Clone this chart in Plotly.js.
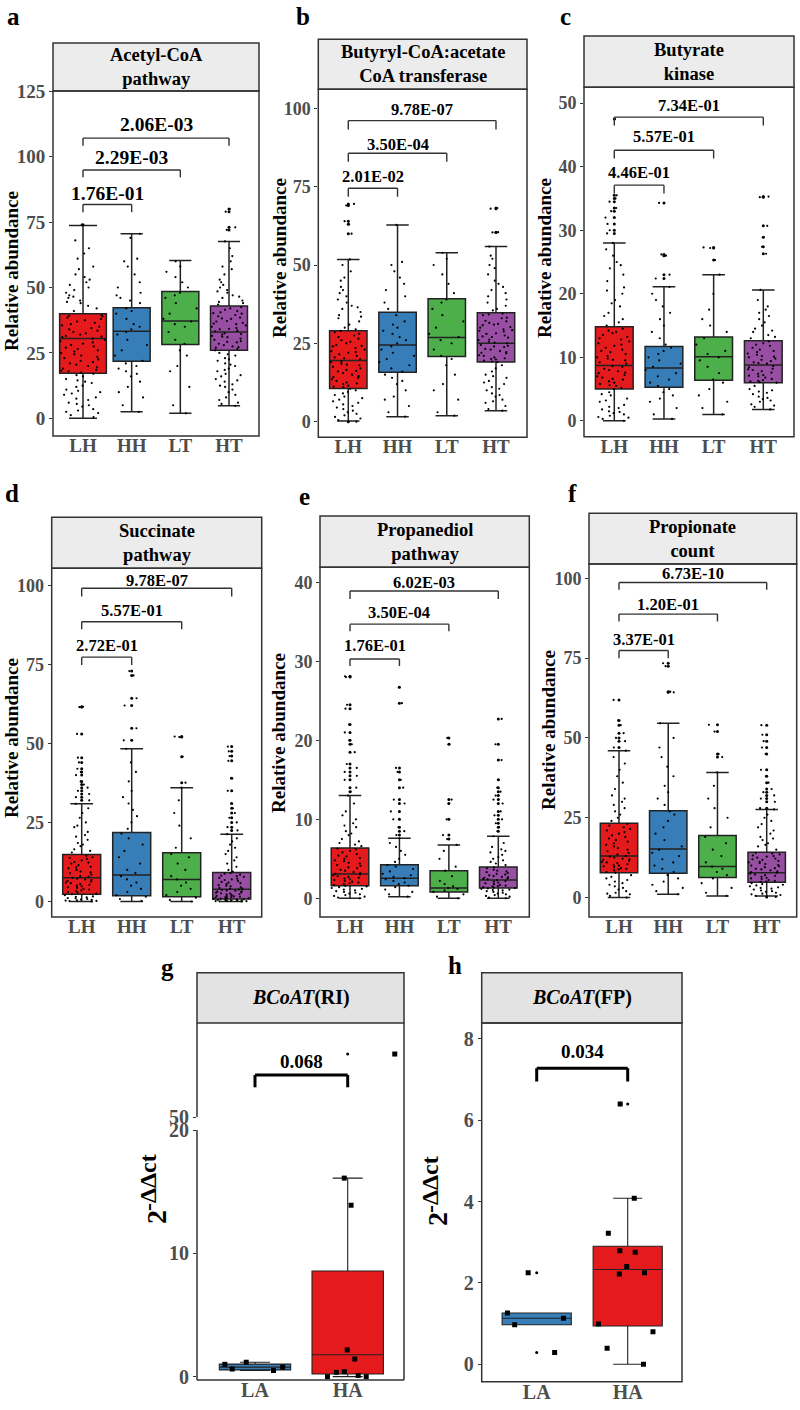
<!DOCTYPE html>
<html><head><meta charset="utf-8">
<script src="https://cdn.plot.ly/plotly-3.0.1.min.js"></script>
<style>html,body{margin:0;padding:0;background:#fff}#chart{width:800px;height:1410px}</style>
</head><body><div id="chart"></div>
<script>
// ---------------- DATA ----------------
const groups = ['LH','HH','LT','HT'];
const qpcrGroups = ['LA','HA'];
const comparisons = [[0,1],[0,2],[0,3]];

// a: Acetyl-CoA pathway
const aStrip = 'Acetyl-CoA<br>pathway';
const aTicks = [0,25,50,75,100,125];
const aQ1 = [17.2,21.8,28.2,26.0], aMed = [30.5,33.3,37.2,33.0], aQ3 = [40.0,42.3,48.5,42.9], aLo = [0,2.5,1.9,4.8], aHi = [73.7,70.5,60.3,67.6];
const aPvals = ['1.76E-01','2.29E-03','2.06E-03'];
const aPtsLH = [0.5,1.2,2,3,4.5,5.5,6,7,8,9,10,11,12,13.5,14,15,16.5,17.5,18,19,20,21,22,23,24,25,26,27,27.5,28,29,30,18.5,22.5,26.5,31,32,33,34,35,36,37,38,39,39.5,31.5,33.5,35.5,37.5,41,42,43,44,45,46,47,48,50,51,52,53,55,57,58,61,63,65,68,74,
  17,18.2,19.5,20.5,21.5,23.5,24.5,25.5,28.5,29.5,30.5,31.2,32.5,34.5,36.5,38.5,39.2,16,14.5,12.5,10.5,9.5,7.5,5,3.5,2.5,44.5,46.5,49,54];
const aPtsHH = [2.5,5,8,10,12,14,16,17,18,19,20,21,22,24,26,28,30,32,33,34,35,36,38,40,41,42,44,45,46,47,48,50,52,55,58,60,61,69,70.5];
const aPtsLT = [1.9,5,12,18,20,24,26,28.5,30,33,35,36,37,38,40,42,44,46,47,48,50,52,54,56,58,60];
const aPtsHT = [4.8,6,8,10,11,12,13,14,15,16,17,18,19,20,21,22,23,24,25,26.5,27,28,29,30,31,32,32.5,27.5,29.5,31.5,33.5,34,35,36,37,38,39,40,41,42,34.5,36.5,38.5,40.5,43.5,44,45,46,47,48,49,50,51,52,53,55,57,58,60,62,65,67.6,72,73,79,80,
  26,27.2,28.5,29.2,30.5,31.2,32.2,33.2,34.2,35.5,36.2,37.2,38.2,39.5,40.2,41.5,42.5,44.5,46.5,48.5,20.5,22.5,24.5,18.5,16.5,14.5,12.5,9,7,5.5];

// b: Butyryl-CoA:acetate CoA transferase
const bStrip = 'Butyryl-CoA:acetate<br>CoA transferase';
const bTicks = [0,25,50,75,100];
const bQ1 = [10.6,15.8,20.8,19.0], bMed = [19.5,24.5,26.9,25.0], bQ3 = [29.0,34.9,39.2,34.8], bLo = [0.2,1.6,1.9,3.5], bHi = [51.8,62.8,53.9,55.9];
const bPvals = ['2.01E-02','3.50E-04','9.78E-07'];
const bPtsLH = [0,0.5,1,1.5,2,3,4,5,6,7,8,9,10,11,11.5,12,13,14,15,16,17,18,19,12.5,14.5,16.5,18.5,20,21,22,23,24,25,26,27,28,29,20.5,22.5,24.5,26.5,30,31,32,33,34,35,36,37,38,40,41,42,43,45,46,48,50,51.8,60,63,64,69,69.5,
  10.5,11.2,12.2,13.5,14.2,15.5,16.2,17.5,18.2,19.2,20.2,21.5,22.2,23.5,24.2,25.5,27.5,28.5,29.5,5.5,6.5,7.5,8.5,9.5,2.5,3.5,4.5,33.5,36.5,39];
const bPtsHH = [1.6,3,5,7,8,10,12,13,14,15,16,17,18,19,20,21,22,23,24,25,26,27,28,29,30,31,32,34,36,38,40,42,44,46,48,50,51,62.8];
const bPtsLT = [1.9,3,7,10,12,15,18,20,21,23,25,26,27,28,30,32,34,36,38,39,41,44,47,50,52,53.9];
const bPtsHT = [3.5,4,5,6,7,8,9,10,11,12,13,14,15,16,17,18,19,19.5,20,21,22,23,24,25,20.5,22.5,24.5,25.5,26,27,28,29,30,31,32,33,34,34.5,27.5,29.5,31.5,35.5,36,37,38,40,42,44,45,47,49,50,52,53,55.9,60.4,60.5,68,68.2,
  19.2,20.2,21.2,22.2,23.2,24.2,25.2,26.2,27.2,28.2,29.2,30.2,31.2,32.2,33.2,34.2,19.8,21.8,23.8,26.8,28.8,30.8,14.5,12.5,10.5,8.5,6.5,39,41,43];

// c: Butyrate kinase
const cStrip = 'Butyrate<br>kinase';
const cTicks = [0,10,20,30,40,50];
const cQ1 = [5.0,5.3,6.4,6.0], cMed = [8.7,8.3,10.1,8.8], cQ3 = [14.8,11.7,13.2,12.6], cLo = [0,0.3,1.0,1.8], cHi = [28.0,21.1,23.0,20.6];
const cPvals = ['4.46E-01','5.57E-01','7.34E-01'];
const cPtsLH = [0,0.3,0.5,0.8,1,1.2,1.5,2,2.5,3,3.5,4,4.5,5,5.5,6,6.5,7,7.5,8,8.5,5.8,6.8,7.8,9,9.5,10,10.5,11,12,13,14,14.5,9.8,11.5,12.5,13.5,15.5,16,17,18,19,20,21,22,23,24,25,26,27,28,29.5,30,31,32,33,33.5,34.5,35,35.5,47.5,
  5.2,5.6,6.2,6.6,7.2,7.6,8.2,8.6,9.2,9.6,10.2,10.8,11.2,11.8,12.2,12.8,13.2,13.8,14.2,4.2,3.2,2.2,1.8,0.6,1.4,16.5,18.5,20.5,24.5,15];
const cPtsHH = [0.3,1,2,3,3.5,4,4.5,5,5.5,6,6.5,7,7.5,8,8.5,9,9.5,10,10.5,11,11.5,12,13,14,15,16,17,18,19,20,21.1,22.4,23,26,26.2,34.3];
const cPtsLT = [1,2,3,4,5,6,6.5,7.5,8.5,9.5,10,10.5,11,12,13,14,15,16,17.5,20,23,25.3,27.2,27.3];
const cPtsHT = [1.8,2.2,2.6,3,3.4,3.8,4.2,4.6,5,5.5,6,6.3,6.6,7,7.4,7.8,8.2,8.6,9,9.4,9.8,10.2,10.6,11,11.5,12,12.5,13,13.5,14,14.5,15,16,17,18,19,20.6,26.3,27.4,28.9,30.7,35.2,35.3,
  6.1,6.4,6.8,7.2,7.6,8,8.4,9.2,9.6,10,10.4,10.8,11.2,11.8,12.2,6.2,7.1,8.1,9.1,10.1,4.4,4.8,3.6,3.2,2.4,13.2,14.2,15.5,16.5,17.5];

// d: Succinate pathway
const dStrip = 'Succinate<br>pathway';
const dTicks = [0,25,50,75,100];
const dQ1 = [2.3,1.8,1.5,0.8], dMed = [7.5,8.4,7.0,3.9], dQ3 = [14.9,21.8,15.4,9.2], dLo = [0,0,0,0], dHi = [30.9,48.3,36.0,21.3];
const dPvals = ['2.72E-01','5.57E-01','9.78E-07'];
const dPtsLH = [0,0.2,0.5,0.8,1,1.3,1.6,2,2.3,2.8,3.3,3.8,4.3,4.8,5.3,5.8,6.3,6.8,7.2,7.8,8.5,9.2,10,10.8,11.5,12.3,13,13.8,14.5,15.5,16.5,17.5,18.5,19.5,20.5,22,23.5,25,26.5,28,29.5,30.9,32,33,34,35,36,37,38,40,41,42,44,45.5,53,61.6,61.5,
  2.5,3,3.5,4,4.5,5,5.5,6,6.5,7,7.5,8,9,9.5,10.5,11,12,12.5,13.5,14,1.5,1.1,0.4,0.1,0.3,0.6,16,18,21,24];
const dPtsHH = [0.2,0.8,1.5,2,3,4,5,6,7,8,9,10,12,14,16,18,20,21.5,23,25,27,29,31,33,35,38,41,44,48.3,51,54.8,62,64.3,71.5,72.9];
const dPtsLT = [0,0.5,1.2,2,3,4,5,6,7,8,10,12,14,15,17,20,24,28,32,36,37.6,45.8,52.2,52];
const dPtsHT = [0,0.1,0.2,0.3,0.5,0.7,0.9,1.1,1.3,1.5,1.7,2,2.3,2.6,2.9,3.2,3.5,3.8,4.1,4.5,5,5.5,6,6.5,7,7.5,8,8.5,9,9.5,10,11,12,13,14,15,16,17,18,19,20,21.3,22.5,23.5,25,26.5,28,29.5,31,35,39,44.5,46,47.5,49,
  0.15,0.25,0.4,0.6,0.8,1,1.2,1.4,1.6,1.8,2.2,2.5,2.8,3.1,3.4,3.7,4,4.3,4.8,5.2,5.8,6.2,6.8,7.2,7.8,8.2,8.8,0.05,0.35,0.55];

// e: Propanediol pathway
const eStrip = 'Propanediol<br>pathway';
const eTicks = [0,10,20,30,40];
const eQ1 = [1.6,1.6,0.8,1.3], eMed = [3.06,2.55,1.3,2.3], eQ3 = [6.35,4.24,3.5,3.95], eLo = [0,0.2,0,0], eHi = [13.0,7.6,6.75,7.85];
const ePvals = ['1.76E-01','3.50E-04','6.02E-03'];
const ePtsLH = [0,0.2,0.4,0.6,0.8,1,1.2,1.4,1.6,1.8,2,2.2,2.4,2.6,2.8,3,3.2,3.5,3.8,4.1,4.4,4.7,5,5.3,5.6,6,6.3,6.6,7,7.5,8,8.5,9,9.5,10,10.5,11,12,13,13.5,14,15,15.5,16,16.5,17,18.5,19.5,20,21,22,24,24.5,28,28.1,
  1.5,1.7,1.9,2.1,2.3,2.5,2.7,2.9,3.1,3.3,3.6,3.9,4.2,4.5,4.8,5.1,5.4,5.8,6.2,0.1,0.3,0.5,0.7,0.9,1.1,1.3,6.8,7.2,8.2,9.2];
const ePtsHH = [0.2,0.5,0.8,1.1,1.4,1.6,1.8,2,2.2,2.4,2.55,2.7,2.9,3.1,3.4,3.7,4,4.2,4.6,5,5.5,6,6.5,7,7.6,8,8.5,9,10,11,12,12.5,14,15,16,16.5,24.7,26.7];
const ePtsLT = [0,0.2,0.5,0.8,1,1.2,1.3,1.5,1.8,2.2,2.8,3.5,4,5,6,6.75,7.5,8,10,12,12.5,19.5,20.3];
const ePtsHT = [0,0.2,0.4,0.6,0.8,1,1.1,1.3,1.5,1.7,1.9,2.1,2.3,2.5,2.7,2.9,3.1,3.3,3.6,3.9,4.2,4.6,5,5.5,6,6.5,7,7.85,8.5,9,9.5,10,10.5,11,12,12.5,13,13.5,14,15,17.5,19.5,22.7,
  1.2,1.4,1.6,1.8,2,2.2,2.4,2.6,2.8,3,3.2,3.5,3.8,0.1,0.3,0.5,0.7,0.9,1.05,1.25,4.4,4.8,5.2,5.8,6.2,1.35,1.55,2.45,2.65,3.4];

// f: Propionate count
const fStrip = 'Propionate<br>count';
const fTicks = [0,25,50,75,100];
const fQ1 = [7.8,7.6,6.3,4.8], fMed = [13.0,15.2,9.7,7.8], fQ3 = [23.3,27.2,19.4,14.2], fLo = [0,1,0.5,0.5], fHi = [46.0,54.6,39.2,27.6];
const fPvals = ['3.37E-01','1.20E-01','6.73E-10'];
const fPtsLH = [0,0.5,1,1.5,2,3,4,5,6,7,7.8,8.5,9,9.5,10,10.5,11,11.5,12,12.5,13,14,15,16,17,18,19,20,21,22,23,24,26,28,30,32,34,36,38,40,42,44,46,47,49,50,51.5,54,55.5,61.9,
  8,8.8,9.2,9.8,10.2,10.8,11.2,11.8,12.2,12.8,13.5,14.5,15.5,16.5,17.5,18.5,19.5,20.5,21.5,22.5,1.2,2.5,3.5,4.5,5.5,6.5,25,27,29,31];
const fPtsHH = [1,2,3,4,5,6,7,8,9,10,11,12,13,14,15,16,18,20,22,24,26,27,29,31,33,35,38,41,44,47,50,54.6,64.3,64.5,72.5,73.4];
const fPtsLT = [0.5,1.5,3,4.5,6,7,8,9,9.7,11,13,15,17,19,22,25,28,31,35,39.2,44,45,52,54.1];
const fPtsHT = [0.5,1,1.5,2,2.5,3,3.5,4,4.5,5,5.5,6,6.5,7,7.5,8,8.5,9,9.5,10,10.5,11,11.5,12,12.5,13,13.5,14,15,16,17,18,19,20,21,22,23,24,25,26,27.6,28,30,31,32,33,34,36,38,40,45,47,49,51,54,
  4.9,5.2,5.8,6.2,6.8,7.2,7.8,8.2,8.8,9.2,9.8,10.2,10.8,11.2,11.8,12.2,12.8,13.2,13.8,0.2,0.8,1.2,1.8,2.2,2.8,3.2,3.8,4.2,16.5,18.5];

// g: BCoAT (RI) qPCR
const gStrip = '<i>BCoAT</i>(RI)';
const gTicks = [0,10,20], gTicksUpper = [50];
const gBreak = [20, 50];
const gQ1 = [0.55,0.22], gMed = [0.77,1.78], gQ3 = [1.02,8.57], gLo = [0.5,0], gHi = [1.17,16.1];
const gPval = '0.068';
const gPtsLA = [0.5,0.62,0.77,1.0,1.17];
const gPtsHA = [16.1,13.9,2.17,1.43,0.4,0.35,0.1,0,0,56.7];

// h: BCoAT (FP) qPCR
const hStrip = '<i>BCoAT</i>(FP)';
const hTicks = [0,2,4,6,8];
const hQ1 = [0.97,0.94], hMed = [1.13,2.33], hQ3 = [1.26,2.9], hLo = [0.97,0], hHi = [1.26,4.08];
const hPval = '0.034';
const hPtsLA = [2.25,1.13,0.29,0.97,1.26];
const hPtsHA = [4.08,3.22,2.79,2.75,2.4,2.25,2.22,0.99,0.8,0.39,0.0,6.4];

// ---------------- STYLE / GEOMETRY ----------------
const W = 800, H = 1410;
const SERIF = 'Liberation Serif, Times New Roman, serif';
const set1 = ['#E41A1C','#377EB8','#4DAF4A','#984EA3'];
const qpcrColors = ['#377EB8','#E41A1C'];

const panels = [
  {id:'a', cats:groups, colors:set1, q1:aQ1, med:aMed, q3:aQ3, lo:aLo, hi:aHi, pts:[aPtsLH,aPtsHH,aPtsLT,aPtsHT], pv:aPvals, strip:aStrip, ticks:aTicks},
  {id:'b', cats:groups, colors:set1, q1:bQ1, med:bMed, q3:bQ3, lo:bLo, hi:bHi, pts:[bPtsLH,bPtsHH,bPtsLT,bPtsHT], pv:bPvals, strip:bStrip, ticks:bTicks},
  {id:'c', cats:groups, colors:set1, q1:cQ1, med:cMed, q3:cQ3, lo:cLo, hi:cHi, pts:[cPtsLH,cPtsHH,cPtsLT,cPtsHT], pv:cPvals, strip:cStrip, ticks:cTicks},
  {id:'d', cats:groups, colors:set1, q1:dQ1, med:dMed, q3:dQ3, lo:dLo, hi:dHi, pts:[dPtsLH,dPtsHH,dPtsLT,dPtsHT], pv:dPvals, strip:dStrip, ticks:dTicks},
  {id:'e', cats:groups, colors:set1, q1:eQ1, med:eMed, q3:eQ3, lo:eLo, hi:eHi, pts:[ePtsLH,ePtsHH,ePtsLT,ePtsHT], pv:ePvals, strip:eStrip, ticks:eTicks},
  {id:'f', cats:groups, colors:set1, q1:fQ1, med:fMed, q3:fQ3, lo:fLo, hi:fHi, pts:[fPtsLH,fPtsHH,fPtsLT,fPtsHT], pv:fPvals, strip:fStrip, ticks:fTicks},
  {id:'g', cats:qpcrGroups, colors:qpcrColors, q1:gQ1, med:gMed, q3:gQ3, lo:gLo, hi:gHi, pts:[gPtsLA,gPtsHA], pv:[gPval], strip:gStrip, ticks:gTicks},
  {id:'h', cats:qpcrGroups, colors:qpcrColors, q1:hQ1, med:hMed, q3:hQ3, lo:hLo, hi:hHi, pts:[hPtsLA,hPtsHA], pv:[hPval], strip:hStrip, ticks:hTicks}
];

// pixel geometry: frame [left, top, right, bottom]
const geom = {
  a:{frame:[53,91,259,436], strip:43, cat:[83,229], yr:[-6.75,125.1], w:[0.96,0.76,0.76,0.76], top:[81.7,94.9,107.1], leg:[78.8,92.1,104.2], txt:[85.8,99.5,112.2], pvSize:19.5, letter:[13.5,17], yt:[11,271]},
  b:{frame:[318.3,89.3,527,437.3], strip:39.3, cat:[348.3,496], yr:[-5.0,106.1], w:[0.76,0.76,0.76,0.76], top:[74.5,85.7,96.1], leg:[71.8,83.0,93.3], txt:[78.2,88.6,99.5], pvSize:16.5, letter:[303,17], yt:[280,258]},
  c:{frame:[584,87.3,794,436.7], strip:36, cat:[614.3,763.3], yr:[-2.5,52.5], w:[0.76,0.76,0.76,0.76], top:[37.1,42.6,47.8], leg:[35.8,41.3,46.5], txt:[39.1,44.7,49.7], pvSize:16.5, letter:[565,17], yt:[545,258]},
  d:{frame:[51.7,568.3,261.7,917], strip:517.3, cat:[81.7,231.7], yr:[-4.9,105.4], w:[0.76,0.76,0.76,0.76], top:[77.3,88.5,99.1], leg:[74.8,86.1,96.5], txt:[80.9,92.2,101.7], pvSize:16.5, letter:[12,494], yt:[11,738]},
  e:{frame:[320,567.3,529.3,917], strip:516, cat:[350,498.3], yr:[-2.37,41.9], w:[0.76,0.76,0.76,0.76], top:[30.3,34.7,38.9], leg:[29.4,33.8,37.9], txt:[32.0,36.2,40.0], pvSize:16.5, letter:[304,496], yt:[278,733]},
  f:{frame:[589,564,796.7,917], strip:513.3, cat:[619,766.7], yr:[-6.1,104.5], w:[0.76,0.76,0.76,0.76], top:[77.4,88.8,98.7], leg:[75.0,86.5,96.4], txt:[81.0,91.7,101.6], pvSize:16.5, letter:[572,494], yt:[548,730]},
  g:{frame:[197,1023,404,1380], strip:972.7, cat:[255,347.7], yr:[-0.27,20], lowerTop:1130, upperBottom:1117, yrU:[50,60], w:[0.77,0.77], top:[54.47], leg:[53.16], txt:[55.9], pvSize:19, letter:[167,967], yt2:[156,1217], ytSup:[148,1183]},
  h:{frame:[481.7,1023,682,1381.7], strip:972.7, cat:[536.7,627.7], yr:[-0.43,8.39], w:[0.76,0.76], top:[7.28], leg:[6.95], txt:[7.68], pvSize:19, letter:[455,965], yt2:[437,1219], ytSup:[430,1185]}
};

const fx = x => x / W;
const fy = y => 1 - y / H;

const traces = [], shapes = [], annotations = [];
const layout = {
  width: W, height: H, margin:{l:0,r:0,t:0,b:0},
  paper_bgcolor:'#fff', plot_bgcolor:'rgba(0,0,0,0)',
  showlegend:false, boxmode:'overlay',
  font:{family:SERIF, color:'#000'}
};

const tickFont = (s) => ({family:SERIF, size:s, color:'#4d4d4d', weight:'bold'});
const frameLine = {color:'#333', width:1.5};

function axisNames(n){ return n===1 ? ['x','y','xaxis','yaxis'] : ['x'+n,'y'+n,'xaxis'+n,'yaxis'+n]; }

panels.forEach((p, i) => {
  const g = geom[p.id];
  const n = i + 1;
  const [xa, ya, xk, yk] = axisNames(n);
  const [L, T, R, B] = g.frame;
  const nc = p.cats.length;
  const s = (g.cat[1] - g.cat[0]) / (nc - 1);
  const xr = [-(g.cat[0] - L) / s, (nc - 1) + (R - g.cat[1]) / s];
  const isQ = (p.id === 'g' || p.id === 'h');
  const tsz = isQ ? 20 : 18;
  const lowerTop = p.id === 'g' ? g.lowerTop : T;

  layout[xk] = {domain:[fx(L), fx(R)], anchor:ya, type:'category', categoryorder:'array', categoryarray:p.cats,
    range:xr, showgrid:false, zeroline:false, showline:false, ticks:'', ticklabelstandoff:-4,
    tickfont:tickFont(isQ ? 20 : 19), fixedrange:true};
  layout[yk] = {domain:[fy(B), fy(lowerTop)], anchor:xa, range:g.yr, tickvals:p.ticks, ticktext:p.ticks.map(String),
    showgrid:false, zeroline:false, showline:false, ticks:'outside', ticklen:3, tickcolor:'#333',
    tickfont:tickFont(p.id === 'a' ? 19 : tsz), fixedrange:true};

  let upperAxis = null;
  if (p.id === 'g') {
    layout['yaxis9'] = {domain:[fy(g.upperBottom), fy(T)], anchor:xa, range:g.yrU, tickvals:gTicksUpper, ticktext:gTicksUpper.map(String),
      showgrid:false, zeroline:false, showline:false, ticks:'outside', ticklen:3, tickcolor:'#333', tickfont:tickFont(tsz), fixedrange:true};
    upperAxis = 'y9';
  }

  const lineW = isQ ? 1.1 : 1.5;
  const mk = isQ ? {color:'#000', size:5, symbol:'square'} : {color:'#000', size:2.2};
  p.cats.forEach((c, k) => {
    traces.push({type:'box', xaxis:xa, yaxis:ya, x:[c], q1:[p.q1[k]], median:[p.med[k]], q3:[p.q3[k]],
      lowerfence:[p.lo[k]], upperfence:[p.hi[k]], fillcolor:p.colors[k], line:{color:'#222', width:lineW},
      whiskerwidth: isQ ? 0.42 : 0.6, width:g.w[k], boxpoints:false, hoverinfo:'skip'});
  });
  p.cats.forEach((c, k) => {
    let pts = p.pts[k];
    let upperPts = [];
    if (p.id === 'g') { upperPts = pts.filter(v => v > gBreak[0]); pts = pts.filter(v => v <= gBreak[0]); }
    traces.push({type:'box', xaxis:xa, yaxis:ya, x:pts.map(() => c), y:pts, boxpoints:'all', jitter:1, pointpos:0,
      fillcolor:'rgba(0,0,0,0)', line:{color:'rgba(0,0,0,0)', width:0}, marker:mk, width:g.w[k], hoverinfo:'skip'});
    const outs = pts.filter(v => v > p.hi[k] || v < p.lo[k]);
    if (outs.length) traces.push({type:'scatter', mode:'markers', xaxis:xa, yaxis:ya, x:outs.map(() => c), y:outs,
      marker:{color:'#000', size:3}, hoverinfo:'skip', cliponaxis:false});
    if (upperPts.length) {
      traces.push({type:'box', xaxis:xa, yaxis:upperAxis, x:upperPts.map(() => c), y:upperPts, boxpoints:'all', jitter:1, pointpos:0.8,
        fillcolor:'rgba(0,0,0,0)', line:{color:'rgba(0,0,0,0)', width:0}, marker:mk, width:g.w[k], hoverinfo:'skip'});
      traces.push({type:'scatter', mode:'markers', xaxis:xa, yaxis:upperAxis, x:upperPts.map(() => c), y:upperPts,
        marker:{color:'#000', size:3}, hoverinfo:'skip'});
    }
  });

  // frame
  if (p.id === 'g') {
    const ln = (x0,y0,x1,y1) => shapes.push({type:'line', xref:'paper', yref:'paper', x0:fx(x0), y0:fy(y0), x1:fx(x1), y1:fy(y1), line:frameLine});
    ln(R, T, R, B); ln(L, B, R, B); ln(L, T, L, g.upperBottom); ln(L, g.lowerTop, L, B);
  } else {
    shapes.push({type:'rect', xref:'paper', yref:'paper', x0:fx(L), x1:fx(R), y0:fy(B), y1:fy(T), line:frameLine, fillcolor:'rgba(0,0,0,0)'});
  }
  // strip
  shapes.push({type:'rect', xref:'paper', yref:'paper', x0:fx(L), x1:fx(R), y0:fy(T), y1:fy(g.strip),
    line:frameLine, fillcolor: isQ ? '#e3e3e3' : '#ececec', layer:'below'});
  annotations.push({xref:'paper', yref:'paper', x:fx((L+R)/2), y:fy((T+g.strip)/2), text:p.strip, showarrow:false,
    xanchor:'center', yanchor:'middle', font:{family:SERIF, size: isQ ? 20 : 18.5, color:'#000', weight:'bold'}});

  // significance brackets
  const bya = (p.id === 'g') ? upperAxis : ya;
  const pairs = isQ ? [[0,1]] : comparisons;
  const bl = isQ ? {color:'#000', width:3} : {color:'#333', width:1.4};
  pairs.forEach((pr, j) => {
    const [i0, i1] = pr;
    const tp = g.top[j], lg = g.leg[j];
    shapes.push({type:'line', xref:xa, yref:bya, x0:i0, x1:i0, y0:lg, y1:tp, line:bl});
    shapes.push({type:'line', xref:xa, yref:bya, x0:i0, x1:i1, y0:tp, y1:tp, line:bl});
    shapes.push({type:'line', xref:xa, yref:bya, x0:i1, x1:i1, y0:tp, y1:lg, line:bl});
    annotations.push({xref:xa, yref:bya, x:(i0+i1)/2, y:g.txt[j], text:p.pv[j], showarrow:false, xanchor:'center', yanchor:'middle',
      font:{family:SERIF, size:g.pvSize, color:'#000', weight:'bold'}});
  });

  // panel letter
  annotations.push({xref:'paper', yref:'paper', x:fx(g.letter[0]), y:fy(g.letter[1]), text:p.id, showarrow:false,
    xanchor:'center', yanchor:'middle', font:{family:SERIF, size:25, color:'#000', weight:'bold'}});
  // y title
  if (isQ) {
    annotations.push({xref:'paper', yref:'paper', x:fx(g.yt2[0]), y:fy(g.yt2[1]), textangle:-90, text:'2', showarrow:false,
      xanchor:'center', yanchor:'middle', font:{family:SERIF, size:28, color:'#000', weight:'bold'}});
    annotations.push({xref:'paper', yref:'paper', x:fx(g.ytSup[0]), y:fy(g.ytSup[1]), textangle:-90, text:'-ΔΔct', showarrow:false,
      xanchor:'center', yanchor:'middle', font:{family:SERIF, size:24, color:'#000', weight:'bold'}});
  } else {
    annotations.push({xref:'paper', yref:'paper', x:fx(g.yt[0]), y:fy(g.yt[1]), textangle:-90,
      text:'Relative abundance', showarrow:false, xanchor:'center', yanchor:'middle',
      font:{family:SERIF, size:19, color:'#000', weight:'bold'}});
  }
});

layout.shapes = shapes;
layout.annotations = annotations;
Plotly.newPlot('chart', traces, layout, {staticPlot:true, displayModeBar:false});
</script>
</body></html>
